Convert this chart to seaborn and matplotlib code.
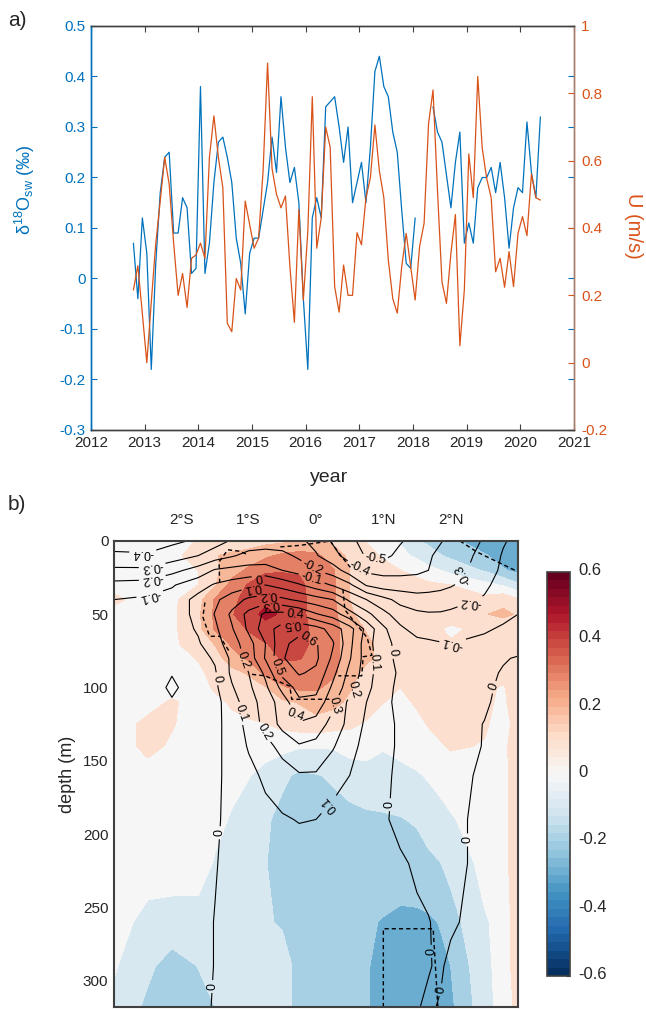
import numpy as np
import pandas as pd
import seaborn as sns
import matplotlib.pyplot as plt
from matplotlib.cm import ScalarMappable
from matplotlib.colors import Normalize
from matplotlib.transforms import ScaledTranslation

# panel a: monthly series
d18o = [.07, -.04, .12, .05, -.18, .03, .17, .24, .25, .09, .09, .16, .14, .01, .02, .38,
        .01, .07, .19, .27, .28, .24, .19, .08, .03, -.07, .05, .08, .08, .135, .19,
        .28, .21, .36, .26, .19, .22, .15, -.04, -.18, .12, .16, .12, .34, .35, .36,
        .30, .23, .30, .15, .19, .23, .15, .26, .41, .44, .38, .36, .29, .25, .135,
        .03, .02, .12, np.nan, np.nan, np.nan, .34, .29, .27, .205, .14, .23, .29, .07, .11,
        .07, .18, .20, .20, .22, .17, .23, .16, .06, .14, .18, .17, .31, .21, .16, .32]
u_speed = [.216, .288, .146, 0, .18, .354, .48, .61, .53, .355, .2, .265, .164, .31, .32, .355,
           .31, .61, .733, .61, .52, .117, .092, .25, .216, .48, .41, .34, .37, .57, .89,
           .577, .50, .46, .495, .285, .12, .455, .186, .39, .79, .34, .43, .70, .64, .226,
           .15, .29, .20, .20, .386, .35, .49, .55, .706, .57, .49, .305, .19, .147, .285,
           .384, .285, .186, .345, .414, .71, .81, .51, .24, .176, .325, .44, .05, .216, .62,
           .49, .85, .637, .547, .49, .27, .31, .224, .33, .226, .384, .434, .377, .56, .49, .483]
first_month = 2012.79
year_ticks = list(range(2012, 2022))
left_ticks = [-.3, -.2, -.1, 0, .1, .2, .3, .4, .5]
right_ticks = [-.2, 0, .2, .4, .6, .8, 1]

# panel b: section grid
lat = [-3, -2.5, -2.14, -1.75, -1.5, -1.25, -1, -.75, -.5, -.25, 0, .25, .5, .75, 1, 1.25, 1.5,
       1.67, 1.85, 2, 2.5, 2.78, 3]
depth = [0, 10, 20, 30, 40, 50, 60, 70, 80, 90, 100, 110, 125, 140, 160, 190, 220, 260, 290, 318]

# shaded field
shade = [
    [0, 0, .01, .055, .07, .09, .1, .12, .13, .145, .17, .13, .09, .045, 0, -.06, -.14, -.17, -.2, -.23, -.3, -.3, -.31],
    [0, .01, .03, .08, .145, .17, .19, .23, .27, .29, .27, .2, .13, .08, .04, -.02, -.07, -.11, -.145, -.17, -.24, -.29, -.31],
    [0, 0, .02, .05, .13, .2, .27, .34, .34, .34, .31, .26, .15, .11, .08, .052, .02, -.02, -.05, -.08, -.16, -.24, -.28],
    [.02, 0, .02, .05, .14, .29, .36, .39, .4, .37, .31, .27, .15, .12, .1, .09, .08, .07, .06, .05, -.02, -.06, -.13],
    [.07, .01, .03, .11, .26, .33, .38, .43, .44, .38, .31, .27, .15, .12, .11, .1, .09, .09, .09, .09, .08, .12, .06],
    [.02, .01, .03, .13, .27, .34, .42, .47, .44, .37, .32, .28, .16, .12, .11, .1, .1, .1, .1, .1, .145, .17, .14],
    [.01, .01, .03, .12, .26, .3, .36, .42, .43, .39, .32, .28, .21, .14, .1, .09, .08, .07, .055, .03, .08, .09, .1],
    [.01, .01, .03, .1, .155, .27, .31, .345, .38, .39, .32, .27, .22, .17, .12, .09, .08, .07, .06, .06, .08, .09, .1],
    [.01, .01, .02, .055, .11, .2, .27, .31, .36, .355, .32, .27, .22, .17, .12, .09, .08, .07, .07, .07, .08, .09, .1],
    [.01, .01, .02, .03, .08, .12, .16, .28, .3, .31, .3, .27, .19, .12, .09, .08, .07, .07, .07, .09, .08, .07, .09],
    [.01, .01, .02, .02, .06, .08, .11, .14, .24, .27, .265, .22, .16, .1, .07, .05, .06, .07, .07, .07, .06, .045, .08],
    [.01, .02, .06, .02, .03, .06, .08, .1, .13, .155, .2, .18, .13, .09, .052, .03, .06, .07, .07, .07, .06, .04, .08],
    [.01, .07, .055, .02, .02, .03, .04, .048, .075, .1, .11, .09, .065, .04, .01, .01, .03, .055, .08, .085, .06, .02, .08],
    [.01, .07, .04, .015, .01, .01, .01, 0, -.02, -.04, -.04, -.04, 0, 0, -.04, -.02, 0, .02, .04, .06, .045, .02, .12],
    [.02, .02, .02, .01, 0, -.02, -.045, -.09, -.13, -.17, -.155, -.14, -.12, -.1, -.1, -.08, -.06, -.04, -.02, 0, .01, .01, .12],
    [.01, .01, .01, .01, -.02, -.06, -.1, -.135, -.18, -.19, -.19, -.18, -.17, -.165, -.16, -.155, -.14, -.11, -.08, -.06, 0, .01, .12],
    [.01, 0, 0, 0, -.06, -.08, -.11, -.145, -.2, -.2, -.2, -.2, -.2, -.2, -.2, -.2, -.19, -.17, -.152, -.12, -.02, .01, .12],
    [-.01, -.08, -.09, -.09, -.09, -.1, -.11, -.14, -.16, -.2, -.21, -.22, -.23, -.24, -.255, -.27, -.27, -.265, -.245, -.19, -.06, -.02, .12],
    [-.04, -.13, -.19, -.148, -.11, -.09, -.09, -.09, -.11, -.18, -.2, -.21, -.23, -.245, -.27, -.28, -.28, -.28, -.27, -.25, -.07, -.02, .12],
    [-.07, -.17, -.22, -.18, -.15, -.11, -.1, -.1, -.11, -.18, -.2, -.21, -.23, -.245, -.27, -.29, -.3, -.3, -.29, -.27, -.09, -.01, .08],
]

# contoured field
lines = [
    [-.45, -.44, -.42, -.385, -.34, -.29, -.26, -.25, -.26, -.28, -.33, -.41, -.48, -.53, -.55, -.51, -.46, -.43, -.405, -.38, -.29, -.21, -.17],
    [-.38, -.39, -.35, -.30, -.25, -.21, -.17, -.16, -.17, -.22, -.29, -.37, -.44, -.51, -.53, -.47, -.44, -.41, -.38, -.36, -.27, -.19, -.16],
    [-.28, -.28, -.23, -.16, -.09, -.07, -.06, -.06, -.10, -.14, -.20, -.25, -.35, -.42, -.43, -.43, -.42, -.40, -.37, -.35, -.25, -.18, -.15],
    [-.17, -.16, -.11, -.04, .01, .04, .07, .10, .06, .01, -.05, -.11, -.18, -.31, -.35, -.35, -.35, -.34, -.33, -.31, -.22, -.16, -.14],
    [-.10, -.08, -.06, .03, .08, .15, .22, .25, .22, .18, .14, .10, -.02, -.10, -.17, -.23, -.26, -.26, -.25, -.24, -.19, -.14, -.11],
    [-.07, -.06, -.04, .02, .105, .22, .33, .42, .43, .39, .31, .25, .14, .03, -.07, -.15, -.18, -.19, -.19, -.18, -.16, -.12, -.10],
    [-.05, -.05, -.05, .01, .08, .19, .32, .46, .54, .57, .54, .46, .34, .17, .02, -.08, -.14, -.15, -.14, -.13, -.11, -.09, -.08],
    [-.04, -.05, -.04, -.01, .06, .15, .26, .40, .58, .63, .61, .51, .33, .14, .03, -.03, -.07, -.08, -.095, -.10, -.08, -.07, -.06],
    [-.04, -.04, -.04, -.03, .01, .12, .24, .41, .59, .66, .62, .48, .31, .15, .04, -.03, -.06, -.07, -.08, -.09, -.05, -.01, .01],
    [-.03, -.03, -.003, -.03, -.01, .12, .20, .32, .53, .61, .58, .43, .27, .15, .03, -.01, -.04, -.05, -.055, -.06, -.03, .01, .04],
    [-.03, -.03, .01, -.03, -.02, .09, .18, .28, .43, .54, .53, .38, .24, .13, .03, -.02, -.03, -.04, -.045, -.05, -.02, .02, .05],
    [-.03, -.03, -.005, -.03, -.03, .05, .16, .24, .35, .48, .47, .33, .17, .10, .02, -.02, -.03, -.035, -.04, -.04, -.01, .02, .05],
    [-.03, -.03, -.03, -.03, -.02, .03, .14, .23, .33, .39, .36, .26, .17, .08, .02, -.01, -.02, -.025, -.03, -.03, .002, .02, .04],
    [-.02, -.02, -.02, -.02, -.02, .03, .11, .17, .23, .29, .27, .21, .13, .07, .02, -.01, -.02, -.02, -.02, -.02, .002, .02, .03],
    [-.02, -.02, -.02, -.02, -.02, .03, .07, .12, .16, .19, .19, .14, .10, .05, .01, -.01, -.02, -.02, -.02, -.02, .01, .02, .03],
    [-.02, -.02, -.02, -.02, -.01, .02, .05, .07, .09, .105, .10, .07, .05, .03, .01, -.02, -.03, -.03, -.02, -.01, .01, .015, .02],
    [-.02, -.02, -.02, -.02, -.002, .01, .03, .04, .05, .05, .05, .04, .03, .03, .02, .01, -.01, -.015, -.015, -.01, .01, .015, .02],
    [-.02, -.02, -.02, -.01, .001, .01, .02, .03, .03, .03, .03, .03, .03, .03, .02, .02, .01, .002, -.01, -.007, .02, .02, .02],
    [-.02, -.02, -.02, -.01, .001, .01, .02, .03, .03, .03, .03, .03, .03, .03, .02, .02, .01, .002, -.005, .01, .02, .02, .02],
    [-.02, -.02, -.02, -.01, .003, .01, .02, .03, .03, .03, .03, .03, .03, .03, .02, .02, .002, -.005, .003, .01, .02, .02, .02],
]
line_levels = [-.5, -.4, -.3, -.2, -.1, 0, .1, .2, .3, .4, .5, .6]
shade_levels = [-.65, -.55, -.45, -.35, -.25, -.15, -.05, .05, .15, .25, .35, .45, .55, .65]

# significance outline, segments split by nan
sig_lat = [-1.43, -1.44, -1.31, -1.13, -1.03, np.nan,
           -1.65, -1.68, -1.58, -1.43, -1.28, np.nan,
           -.95, -.76, -.39, -.36, .25, np.nan,
           -.53, -.24, .21, .36, .51, np.nan,
           .4, .43, .76, .83, .7, .68, .33, np.nan,
           2.14, 2.39, 3, np.nan,
           1, 1, 1.74, 1.81]
sig_depth = [28.6, 14.3, 6, 7, 9, np.nan,
             42, 52, 65, 65, 76, np.nan,
             91, 92, 99, 108, 108, np.nan,
             4, 3, 0, 9.5, 18, np.nan,
             33, 47, 66, 78, 79, 92, 92, np.nan,
             0, 7.5, 21, np.nan,
             318, 264.6, 264.6, 318]

# contour labels: lat, depth, angle
label_lat = [-2.57, -2.44, -2.44, -2.48, -.86, -.94, -.71, -.68, -.31, -.36, -.12, -1.01, -.58, -1.47,
             -1.16, -.79, -.36, .31, .61, .89, 1.14, .88, .62, 2.18, 2.29, 2.04, -.04, -.06, 2.66,
             1.11, -1.46, -1.55, 2.24, 1.72, 1.81, .22]
label_depth = [8, 16, 24, 35, 23, 31, 37, 45, 50, 57, 69, 80, 86, 94,
               118, 131, 120, 113, 103, 83, 76, 11, 20, 22, 41.5, 71, 18, 25, 100,
               180, 199, 304, 204, 280, 306, 181]
label_rot = [180, 188, 188, 195, 190, 190, 185, 190, -5, 185, -35, -70, -70, -80,
             -70, -60, -20, -75, -75, -85, -85, -10, -25, 120, 175, 165, -25, -15, 70,
             90, 90, 90, 90, 90, 80, 130]

lat_ticks = [-2, -1, 0, 1, 2]
lat_names = ['2°S', '1°S', '0°', '1°N', '2°N']
depth_ticks = [0, 50, 100, 150, 200, 250, 300]
bar_ticks = [-.6, -.4, -.2, 0, .2, .4, .6]

BLUE = '#0072BD'
ORANGE = '#D95319'
DARK = '#404040'
TXT = '#262626'
W, H = 646, 1010

sns.set_style('white')
plt.rcParams['font.family'] = ['Liberation Sans', 'DejaVu Sans']
plt.rcParams['axes.unicode_minus'] = False
plt.rcParams['mathtext.default'] = 'regular'
plt.rcParams['contour.negative_linestyle'] = 'solid'


def box(left, right, top, bottom):
    return [left / W, 1 - bottom / H, (right - left) / W, (bottom - top) / H]


fig = plt.figure(figsize=(W / 100, H / 100), dpi=100)

# a) time series
df = pd.DataFrame({'year': first_month + np.arange(len(d18o)) / 12, 'd18o': d18o, 'u': u_speed})
ax = fig.add_axes(box(91, 574, 26, 430))
ax2 = ax.twinx()
# the d18o record has a gap, so it goes in as two pieces
for piece in (df[df.year < 2018.1], df[df.year > 2018.2]):
    sns.lineplot(data=piece, x='year', y='d18o', color=BLUE, lw=0.9, ax=ax, legend=False)
sns.lineplot(data=df, x='year', y='u', color=ORANGE, lw=0.9, ax=ax2, legend=False)
ax.set_xlim(2012, 2021)
ax.set_ylim(-.3, .5)
ax2.set_ylim(-.2, 1)
ax.set_xticks(year_ticks)
ax.set_yticks(left_ticks)
ax.set_yticklabels(['%g' % v for v in left_ticks])
ax2.set_yticks(right_ticks)
ax2.set_yticklabels(['%g' % v for v in right_ticks])
ax.set_xlabel('')
ax.set_ylabel('')
ax2.set_ylabel('')
ax.tick_params(axis='x', direction='in', length=4, width=.8, top=True, bottom=True,
               color=DARK, labelcolor=TXT, labelsize=11, pad=4)
ax.tick_params(axis='y', direction='in', length=4, width=.8, left=True, right=True,
               color=BLUE, labelcolor=BLUE, labelsize=11, pad=4)
ax2.tick_params(axis='y', direction='in', length=4, width=.8, right=True,
                color=ORANGE, labelcolor=ORANGE, labelsize=11, pad=5)
for a in (ax, ax2):
    a.spines['left'].set_color(BLUE)
    a.spines['right'].set_color('#A97C6A')
    a.spines['top'].set_color(DARK)
    a.spines['bottom'].set_color(DARK)
    for s in a.spines.values():
        s.set_linewidth(1.0)

fig.text(329 / W, 1 - 477 / H, 'year', ha='center', va='center', fontsize=14, color=TXT)
fig.text(25 / W, 1 - 190 / H, 'δ$^{18}$O$_{sw}$ (‰)', rotation=90, ha='center', va='center',
         fontsize=13, color=BLUE)
fig.text(633 / W, 1 - 226 / H, 'U (m/s)', rotation=270, ha='center', va='center',
         fontsize=14.5, color=ORANGE)
fig.text(8 / W, 1 - 20 / H, 'a)', ha='left', va='center', fontsize=15, color=TXT)
fig.text(8 / W, 1 - 505 / H, 'b)', ha='left', va='center', fontsize=15, color=TXT)

# b) section
cmap = sns.color_palette('RdBu_r', as_cmap=True)
norm = Normalize(-.6, .6)
ax3 = fig.add_axes(box(114, 518, 541, 1007))
ax3.contourf(lat, depth, shade, levels=shade_levels, cmap=cmap, norm=norm)
cs = ax3.contour(lat, depth, lines, levels=line_levels, colors='black', linewidths=0.8)
texts = ax3.clabel(cs, fmt='%g', fontsize=9, inline=True, inline_spacing=3,
                   manual=list(zip(label_lat, label_depth)))
for t, r in zip(texts, label_rot):
    t.set_rotation(r)
ax3.plot(sig_lat, sig_depth, color='black', lw=1.0, ls=(0, (3, 2.2)))
ax3.set_xlim(-3, 3)
ax3.set_ylim(318, 0)
ax3.set_xticks(lat_ticks)
ax3.set_xticklabels(lat_names)
ax3.set_yticks(depth_ticks)
ax3.set_ylabel('depth (m)', fontsize=13, color=TXT, labelpad=5)
ax3.tick_params(axis='both', direction='in', length=4, width=1.2, top=True, bottom=True,
                left=True, right=True, labeltop=True, labelbottom=False, color=DARK,
                labelcolor=TXT, labelsize=11)
ax3.tick_params(axis='x', pad=10)
ax3.tick_params(axis='y', pad=4)
for s in ax3.spines.values():
    s.set_color(DARK)
    s.set_linewidth(1.5)

# colorbar
cax = fig.add_axes(box(547, 570, 572, 976))
cb = fig.colorbar(ScalarMappable(norm=norm, cmap=cmap.resampled(48)), cax=cax)
cb.set_ticks(bar_ticks)
cb.set_ticklabels(['%g' % v for v in bar_ticks])
cax.tick_params(direction='in', length=3, width=.8, color=DARK, labelcolor=TXT, labelsize=12, pad=6)
for t in cax.get_yticklabels():
    t.set_transform(t.get_transform() + ScaledTranslation(0, 3 / 100, fig.dpi_scale_trans))
cb.outline.set_edgecolor(DARK)
cb.outline.set_linewidth(1.2)

fig.savefig('out.png', dpi=100)
